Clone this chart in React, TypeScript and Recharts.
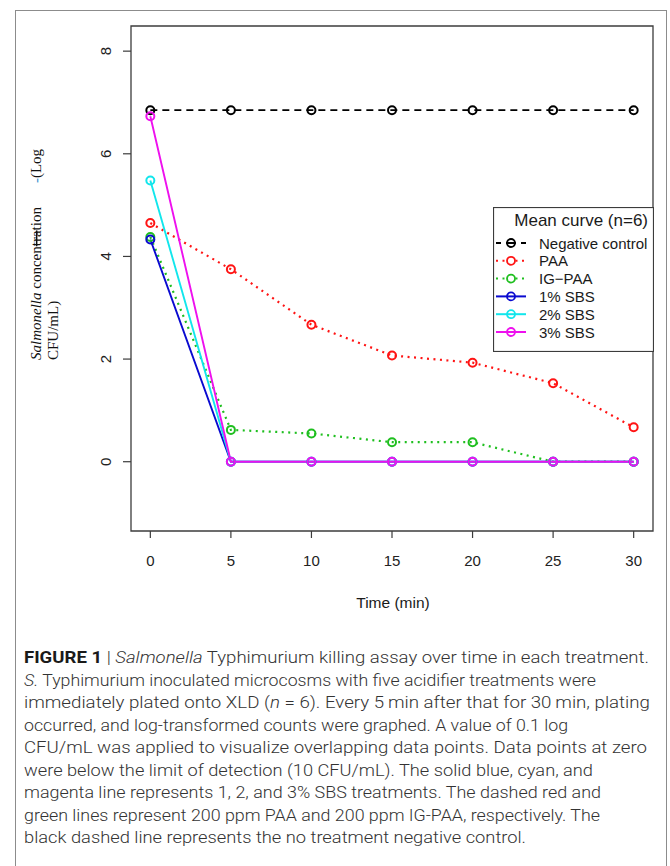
import React from 'react'
import { LineChart, Line, XAxis, YAxis, ReferenceArea, Legend } from 'recharts'

// minutes after inoculation
const times = [0, 5, 10, 15, 20, 25, 30]

// mean log CFU/mL per treatment (n=6)
const negativeControl = [6.85, 6.85, 6.85, 6.85, 6.85, 6.85, 6.85]
const paa = [4.65, 3.75, 2.67, 2.07, 1.93, 1.53, 0.67]
const igPaa = [4.38, 0.62, 0.55, 0.38, 0.38, 0, 0]
const sbs1 = [4.33, 0, 0, 0, 0, 0, 0]
const sbs2 = [5.48, 0, 0, 0, 0, 0, 0]
const sbs3 = [6.73, 0, 0, 0, 0, 0, 0]

const xTicks = [0, 5, 10, 15, 20, 25, 30]
const yTicks = [0, 2, 4, 6, 8]

const SERIES = [
  { key: 'neg', name: 'Negative control', values: negativeControl, color: '#000000', style: 'dashed' },
  { key: 'paa', name: 'PAA', values: paa, color: '#ff1414', style: 'dotted' },
  { key: 'igpaa', name: 'IG\u2212PAA', values: igPaa, color: '#1fbf1f', style: 'dotted' },
  { key: 'sbs1', name: '1% SBS', values: sbs1, color: '#0a0ad0', style: 'solid' },
  { key: 'sbs2', name: '2% SBS', values: sbs2, color: '#12e6ec', style: 'solid' },
  { key: 'sbs3', name: '3% SBS', values: sbs3, color: '#ee10ee', style: 'solid' }
]

const data = times.map((t, i) => {
  const row: Record<string, number> = { t }
  SERIES.forEach(s => { row[s.key] = s.values[i] })
  return row
})

const DASH: Record<string, string | undefined> = {
  dashed: '7 5',
  dotted: '2 4.5',
  solid: undefined
}

const AXIS_FONT = "'Liberation Sans', Arial, sans-serif"
const INK = '#3c3c3c'

const CAPTION: { text: string; style?: 'b' | 'i' }[][] = [
  [{ text: 'FIGURE 1', style: 'b' }, { text: ' | ' }, { text: 'Salmonella', style: 'i' }, { text: ' Typhimurium killing assay over time in each treatment.' }],
  [{ text: 'S.', style: 'i' }, { text: ' Typhimurium inoculated microcosms with five acidifier treatments were' }],
  [{ text: 'immediately plated onto XLD (' }, { text: 'n', style: 'i' }, { text: ' = 6). Every 5\u2009min after that for 30\u2009min, plating' }],
  [{ text: 'occurred, and log-transformed counts were graphed. A value of 0.1 log' }],
  [{ text: 'CFU/mL was applied to visualize overlapping data points. Data points at zero' }],
  [{ text: 'were below the limit of detection (10 CFU/mL). The solid blue, cyan, and' }],
  [{ text: 'magenta line represents 1, 2, and 3% SBS treatments. The dashed red and' }],
  [{ text: 'green lines represent 200 ppm PAA and 200 ppm IG-PAA, respectively. The' }],
  [{ text: 'black dashed line represents the no treatment negative control.' }]
]
const CAPTION_WIDTHS = [625, 572, 626, 544, 623, 569, 577, 576, 502]

function YTick({ x, y, payload }: any) {
  return (
    <text
      x={x}
      y={y}
      transform={`rotate(-90, ${x}, ${y})`}
      textAnchor="middle"
      fontSize={15}
      fontFamily={AXIS_FONT}
      fill="#222"
    >
      {payload.value}
    </text>
  )
}

function XTick({ x, y, payload }: any) {
  return (
    <text x={x} y={y} dy="0.71em" textAnchor="middle" fontSize={15} fontFamily={AXIS_FONT} fill="#222">
      {payload.value}
    </text>
  )
}

function LegendBox() {
  return (
    <svg width={161} height={145} style={{ display: 'block' }}>
      <rect x={0.5} y={0.5} width={160} height={144} fill="#fff" stroke={INK} strokeWidth={1.2} />
      <text x={155} y={19} textAnchor="end" fontSize={17} fontFamily={AXIS_FONT} fill="#1a1a1a">
        Mean curve (n=6)
      </text>
      {SERIES.map((s, i) => {
        const cy = 36 + i * 17.8
        return (
          <g key={s.key}>
            {s.style === 'dashed' ? (
              <g stroke={s.color} strokeWidth={2}>
                <line x1={3} x2={8} y1={cy} y2={cy} />
                <line x1={13} x2={23} y1={cy} y2={cy} />
                <line x1={28} x2={33} y1={cy} y2={cy} />
              </g>
            ) : (
              <line
                x1={3}
                x2={33}
                y1={cy}
                y2={cy}
                stroke={s.color}
                strokeWidth={2}
                strokeDasharray={s.style === 'dotted' ? '2 4.5' : undefined}
              />
            )}
            <circle cx={18} cy={cy} r={4} fill={s.style === 'dotted' ? '#fff' : 'none'} stroke={s.color} strokeWidth={1.8} />
            <text x={46} y={cy + 5.5} fontSize={15} fontFamily={AXIS_FONT} fill="#1a1a1a">
              {s.name}
            </text>
          </g>
        )
      })}
    </svg>
  )
}

export default function App() {
  return (
    <div style={{ position: 'absolute', left: 0, top: 0, width: 670, height: 866, overflow: 'hidden', background: '#fff' }}>
      <div style={{ position: 'absolute', left: 15, top: 10, width: 650, height: 900, border: '1px solid #8c8c8c' }} />
      <div style={{ position: 'absolute', left: 0, top: 0 }}>
        <LineChart width={670} height={866} data={data} margin={{ top: 26, right: 17, bottom: 305, left: 71 }}>
          <XAxis
            dataKey="t"
            type="number"
            domain={[-1.2, 31.2]}
            ticks={xTicks}
            allowDataOverflow
            height={30}
            axisLine={false}
            tickSize={7}
            tickMargin={17}
            tickLine={{ stroke: INK, strokeWidth: 1.2 }}
            tick={<XTick />}
          />
          <YAxis
            type="number"
            domain={[-1.35, 8.49]}
            ticks={yTicks}
            allowDataOverflow
            width={60}
            axisLine={false}
            tickSize={8}
            tickMargin={12}
            tickLine={{ stroke: INK, strokeWidth: 1.2 }}
            tick={<YTick />}
          />
          <ReferenceArea x1={-1.2} x2={31.2} y1={-1.35} y2={8.49} fill="none" stroke={INK} strokeWidth={1.3} />
          {SERIES.map(s => (
            <Line
              key={s.key}
              dataKey={s.key}
              name={s.name}
              type="linear"
              stroke={s.color}
              strokeWidth={s.style === 'dotted' ? 2.2 : 1.9}
              strokeDasharray={DASH[s.style]}
              dot={{ r: 4, fill: 'none', stroke: s.color, strokeWidth: 2, strokeDasharray: 'none' }}
              activeDot={false}
              isAnimationActive={false}
            />
          ))}
          <Legend
            layout="horizontal"
            verticalAlign="middle"
            align="center"
            wrapperStyle={{ left: 493, top: 207, width: 161, height: 145 }}
            content={<LegendBox />}
          />
        </LineChart>
      </div>
      <svg width={670} height={866} style={{ position: 'absolute', left: 0, top: 0, pointerEvents: 'none' }}>
        <text transform="translate(41,360) rotate(-90)" fontSize={15} fontFamily="'Liberation Serif', 'Times New Roman', serif" fill="#111">
          <tspan fontStyle="italic">Salmonella</tspan>
          <tspan> concen</tspan>
          <tspan textDecoration="line-through">tra</tspan>
          <tspan>tion</tspan>
          <tspan dx={24} fill="#3a8fd0">-</tspan>
          <tspan>(Log</tspan>
        </text>
        <text transform="translate(58,360) rotate(-90)" fontSize={15} fontFamily="'Liberation Serif', 'Times New Roman', serif" fill="#111">
          CFU/mL)
        </text>
        <text x={393} y={608} textAnchor="middle" fontSize={15.5} fontFamily={AXIS_FONT} fill="#1a1a1a">
          Time (min)
        </text>
        {CAPTION.map((parts, i) => (
          <text
            key={i}
            x={24}
            y={663 + i * 22.5}
            fontSize={17}
            fontFamily="Roboto, 'Liberation Sans', sans-serif"
            fontWeight={300}
            fill="#333"
            textLength={CAPTION_WIDTHS[i]}
            lengthAdjust="spacingAndGlyphs"
          >
            {parts.map((p, j) => (
              <tspan
                key={j}
                fontWeight={p.style === 'b' ? 700 : undefined}
                fontStyle={p.style === 'i' ? 'italic' : undefined}
                fill={p.style === 'b' ? '#1a1a1a' : undefined}
              >
                {p.text}
              </tspan>
            ))}
          </text>
        ))}
      </svg>
    </div>
  )
}
